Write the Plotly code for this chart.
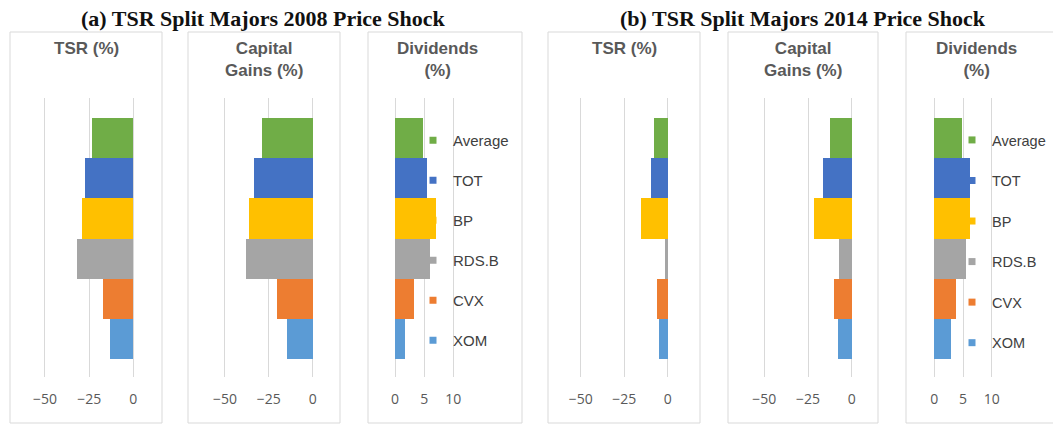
import plotly.graph_objects as go

# ---------------- data ----------------
companies = ["Average", "TOT", "BP", "RDS.B", "CVX", "XOM"]          # legend order (top to bottom)
category_order = ["XOM", "CVX", "RDS.B", "BP", "TOT", "Average"]      # bottom to top on the y axis
colors = ["#70AD47", "#4472C4", "#FFC000", "#A5A5A5", "#ED7D31", "#5B9BD5"]

tsr_2008 = [-23.5, -27.3, -29.2, -32.1, -17.4, -13.2]
capgain_2008 = [-28.7, -33.3, -36.3, -38.0, -20.5, -14.5]
div_2008 = [4.75, 5.5, 7.0, 6.0, 3.3, 1.8]

tsr_2014 = [-7.7, -9.8, -15.3, -1.5, -6.3, -5.2]
capgain_2014 = [-12.4, -16.6, -21.4, -7.1, -10.0, -8.0]
div_2014 = [4.9, 6.2, 6.2, 5.5, 3.8, 2.9]

panel_titles = ["TSR (%)", "Capital<br>Gains (%)", "Dividends<br>(%)"]
chart_titles = ["<b>(a) TSR Split Majors 2008 Price Shock</b>",
                "<b>(b) TSR Split Majors 2014 Price Shock</b>"]
neg_ticks = [-50, -25, 0]
pos_ticks = [0, 5, 10]

# ---------------- layout helpers ----------------
W, H = 1053, 425
# panel boxes in pixels (left, right); the last one runs off the right edge
boxes = [(10, 162), (188, 340), (368, 522), (548, 700), (728, 878), (906, None)]
# x axis pixel mapping: (pixel of zero, pixels per unit)
maps = [(133.3, 1.767), (312.7, 1.755), (395.0, 5.83),
        (667.7, 1.74), (851.7, 1.748), (934.3, 5.74)]
plot_top, plot_bot = 98, 377
box_top, box_bot = 32, 423

series = [tsr_2008, capgain_2008, div_2008, tsr_2014, capgain_2014, div_2014]

fig = go.Figure()
layout = {}
tick_font = dict(family="Open Sans, Arial, sans-serif", size=14, color="#595959")

for i, vals in enumerate(series):
    ax = "" if i == 0 else str(i + 1)
    l, r = boxes[i]
    r = W if r is None else r
    d0, d1 = l + 1, r - 1
    z, s = maps[i]
    rng = [(d0 - z) / s, (d1 - z) / s]
    legend_name = "legend" if i < 3 else "legend2"
    period = "2008" if i < 3 else "2014"
    for name, v, c in zip(companies, vals, colors):
        fig.add_trace(go.Bar(
            x=[v], y=[name], orientation="h", name=name,
            marker=dict(color=c, line=dict(width=0)), width=1,
            xaxis="x" + ax, yaxis="y" + ax,
            legend=legend_name, legendgroup=period + name,
            showlegend=False,
            hovertemplate=name + ": %{x}<extra></extra>",
        ))
    if i % 3 == 2:
        # small square legend keys, as in the original chart
        for name, c in zip(companies, colors):
            fig.add_trace(go.Scatter(
                x=[None], y=[None], mode="markers", name=name,
                marker=dict(symbol="square", size=7, color=c),
                xaxis="x" + ax, yaxis="y" + ax,
                legend=legend_name, legendgroup=period + name, showlegend=True,
            ))
    layout["xaxis" + ax] = dict(
        domain=[d0 / W, d1 / W], range=rng, anchor="y" + ax,
        tickvals=neg_ticks if i % 3 != 2 else pos_ticks,
        showgrid=True, gridcolor="#D9D9D9", gridwidth=1, zeroline=False,
        showline=False, ticks="", tickfont=tick_font, ticklabelstandoff=12,
        fixedrange=True,
    )
    layout["yaxis" + ax] = dict(
        domain=[(H - plot_bot) / H, (H - plot_top) / H],
        type="category", categoryorder="array", categoryarray=category_order,
        range=[-0.95, 6.0], anchor="x" + ax,
        showticklabels=False, showgrid=False, zeroline=False, showline=False,
        ticks="", fixedrange=True,
    )

shapes = []
annotations = []
yb, yt = (H - box_bot) / H, (H - box_top) / H
for i, (l, r) in enumerate(boxes):
    if r is None:
        # open box: top, left and bottom edges only (right edge is outside the picture)
        x0 = l / W
        for seg in [(x0, yt, 1.0, yt), (x0, yb, x0, yt), (x0, yb, 1.0, yb)]:
            shapes.append(dict(type="line", xref="paper", yref="paper",
                               x0=seg[0], y0=seg[1], x1=seg[2], y1=seg[3],
                               line=dict(color="#D9D9D9", width=1), layer="below"))
        cx = 976
    else:
        shapes.append(dict(type="rect", xref="paper", yref="paper",
                           x0=l / W, x1=r / W, y0=yb, y1=yt,
                           line=dict(color="#D9D9D9", width=1), fillcolor="rgba(0,0,0,0)",
                           layer="below"))
        cx = (l + r) / 2 if i % 3 != 2 else (l + r) / 2 - 8
    annotations.append(dict(text="<b>" + panel_titles[i % 3] + "</b>",
                            x=cx / W, y=(H - 37) / H, xref="paper", yref="paper",
                            xanchor="center", yanchor="top", showarrow=False,
                            font=dict(family="Liberation Sans, Arial, sans-serif",
                                      size=17, color="#595959")))

for txt, cx in zip(chart_titles, [263, 803]):
    annotations.append(dict(text=txt, x=cx / W, y=(H - 18) / H, xref="paper", yref="paper",
                            xanchor="center", yanchor="middle", showarrow=False,
                            font=dict(family="Liberation Serif, Times New Roman, serif",
                                      size=22, color="#111111")))

legend_common = dict(
    xref="paper", yref="paper", yanchor="top", orientation="v",
    traceorder="grouped", itemwidth=30,
    bgcolor="rgba(0,0,0,0)", borderwidth=0,
    itemclick="toggle",
)
layout["legend"] = dict(legend_common, x=413 / W, y=(H - 124) / H, tracegroupgap=17.5,
                        font=dict(family="Liberation Sans, Arial, sans-serif",
                                  size=15, color="#404040"))
layout["legend2"] = dict(legend_common, x=952 / W, y=(H - 124) / H, tracegroupgap=18.7,
                         font=dict(family="Liberation Sans, Arial, sans-serif",
                                   size=14.5, color="#404040"))

fig.update_layout(
    **layout,
    width=W, height=H,
    margin=dict(l=0, r=0, t=0, b=0, autoexpand=False),
    paper_bgcolor="white", plot_bgcolor="rgba(0,0,0,0)",
    barmode="overlay", bargap=0,
    shapes=shapes, annotations=annotations,
    showlegend=True,
)

fig.write_html("out.html", config={"displayModeBar": False},
               post_script="document.body.style.margin='0';")
